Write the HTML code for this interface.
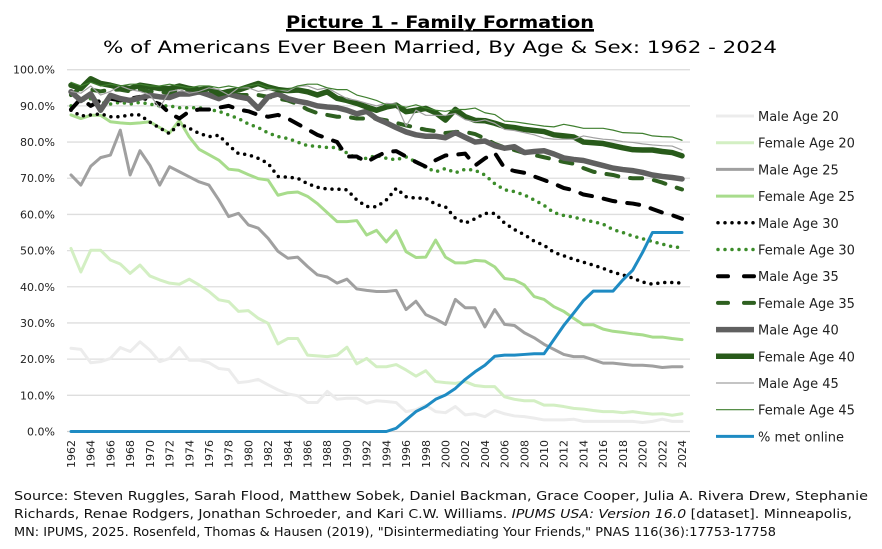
<!DOCTYPE html>
<html><head><meta charset="utf-8"><style>
html,body{margin:0;padding:0;background:#fff;}
svg{display:block;font-family:"DejaVu Sans","Liberation Sans",sans-serif;}
</style></head><body>
<svg id="chart" width="882" height="549" viewBox="0 0 882 549" xmlns="http://www.w3.org/2000/svg">
<rect width="882" height="549" fill="#fff"/>
<text x="440" y="28" text-anchor="middle" font-size="17" font-weight="bold" textLength="308" lengthAdjust="spacingAndGlyphs" text-decoration="underline">Picture 1 - Family Formation</text>
<line x1="286" y1="31" x2="594" y2="31" stroke="#000" stroke-width="1.3"/>
<text x="440" y="53" text-anchor="middle" font-size="17" textLength="674" lengthAdjust="spacingAndGlyphs">% of Americans Ever Been Married, By Age &amp; Sex: 1962 - 2024</text>
<g id="grid"></g>
<g id="yticks" font-size="11" fill="#222"></g>
<g id="xticks" font-size="11" fill="#222"></g>
<g id="series"></g>
<g font-size="13" fill="#222">
 <g><line x1="716" y1="116" x2="754" y2="116" stroke="#ececec" stroke-width="3"/><text x="758" y="121">Male Age 20</text></g>
 <g><line x1="716" y1="142.7" x2="754" y2="142.7" stroke="#d3efc3" stroke-width="3"/><text x="758" y="147.7">Female Age 20</text></g>
 <g><line x1="716" y1="169.4" x2="754" y2="169.4" stroke="#a0a0a0" stroke-width="3"/><text x="758" y="174.4">Male Age 25</text></g>
 <g><line x1="716" y1="196.1" x2="754" y2="196.1" stroke="#a8dc8c" stroke-width="3"/><text x="758" y="201.1">Female Age 25</text></g>
 <g><line x1="718" y1="222.8" x2="754" y2="222.8" stroke="#000" stroke-width="3.5" stroke-linecap="round" stroke-dasharray="0 7"/><text x="758" y="227.8">Male Age 30</text></g>
 <g><line x1="718" y1="249.5" x2="754" y2="249.5" stroke="#3c8c2a" stroke-width="3.5" stroke-linecap="round" stroke-dasharray="0 7"/><text x="758" y="254.5">Female Age 30</text></g>
 <g><line x1="718" y1="276.2" x2="754" y2="276.2" stroke="#000" stroke-width="4" stroke-linecap="round" stroke-dasharray="10 16"/><text x="758" y="281.2">Male Age 35</text></g>
 <g><line x1="718" y1="302.9" x2="754" y2="302.9" stroke="#2e6020" stroke-width="4" stroke-linecap="round" stroke-dasharray="10 16"/><text x="758" y="307.9">Female Age 35</text></g>
 <g><line x1="716" y1="329.6" x2="754" y2="329.6" stroke="#606060" stroke-width="5.5"/><text x="758" y="334.6">Male Age 40</text></g>
 <g><line x1="716" y1="356.3" x2="754" y2="356.3" stroke="#285a1a" stroke-width="5.5"/><text x="758" y="361.3">Female Age 40</text></g>
 <g><line x1="716" y1="383" x2="754" y2="383" stroke="#a0a0a0" stroke-width="1.2"/><text x="758" y="388">Male Age 45</text></g>
 <g><line x1="716" y1="409.7" x2="754" y2="409.7" stroke="#3f7f2f" stroke-width="1.2"/><text x="758" y="414.7">Female Age 45</text></g>
 <g><line x1="716" y1="436.4" x2="754" y2="436.4" stroke="#1e8bc3" stroke-width="3"/><text x="758" y="441.4">% met online</text></g>
</g>
<g font-size="12" fill="#111">
 <text x="14" y="500" textLength="854" lengthAdjust="spacingAndGlyphs">Source: Steven Ruggles, Sarah Flood, Matthew Sobek, Daniel Backman, Grace Cooper, Julia A. Rivera Drew, Stephanie</text>
 <text x="14" y="518" textLength="838" lengthAdjust="spacingAndGlyphs">Richards, Renae Rodgers, Jonathan Schroeder, and Kari C.W. Williams. <tspan font-style="italic">IPUMS USA: Version 16.0</tspan> [dataset]. Minneapolis,</text>
 <text x="14" y="536" textLength="762" lengthAdjust="spacingAndGlyphs">MN: IPUMS, 2025.  Rosenfeld, Thomas &amp; Hausen (2019), "Disintermediating Your Friends," PNAS 116(36):17753-17758</text>
</g>
</svg>
<script>
const years = [];
for (let y = 1962; y <= 2024; y++) years.push(y);
const yTicks = [0,10,20,30,40,50,60,70,80,90,100];
const male20 = [23,22.7,19,19.3,20.2,23.2,22.1,24.8,22.5,19.3,20.2,23.2,19.7,19.7,19,17.4,17.1,13.5,13.8,14.4,12.9,11.5,10.4,9.9,8,8,11.1,8.9,9.2,9.2,7.8,8.5,8.3,8,5.5,6,7.3,5.5,5.2,6.9,4.6,4.9,4.1,5.8,4.9,4.3,4.1,3.7,3.2,3.2,3.2,3.4,2.8,2.8,2.8,2.8,2.8,2.8,2.5,2.8,3.4,2.8,2.8];
const female20 = [50.6,44.1,50.1,50.1,47.4,46.3,43.7,46,43,41.9,41,40.7,42.1,40.5,38.7,36.4,35.9,33.2,33.4,31.3,29.9,24.2,25.7,25.7,21.1,20.9,20.7,21.1,23.3,18.7,20.2,17.9,17.9,18.5,17,15.3,16.8,13.8,13.5,13.3,13.8,12.7,12.4,12.4,9.6,8.9,8.5,8.5,7.3,7.3,6.9,6.4,6.2,5.8,5.5,5.5,5.2,5.5,5.1,4.8,4.9,4.5,4.9];
const male25 = [70.9,68.1,73.3,75.7,76.4,83.3,70.9,77.6,73.6,68.1,73.2,71.8,70.4,69,68.1,64,59.4,60.3,57.1,56.2,53.4,49.8,47.9,48.2,45.6,43.3,42.7,41,42.1,39.4,39,38.7,38.7,39,33.7,36,32.3,31.1,29.6,36.5,34.2,34.2,28.9,33.7,29.6,29.3,27.3,25.9,24.1,22.7,21.3,20.7,20.7,19.8,18.9,18.9,18.6,18.3,18.3,18.1,17.7,17.9,17.9];
const female25 = [87.5,86.5,87.4,87.4,85.6,85.3,85.1,85.3,85.6,84,82.5,86,81.4,78,76.5,75,72.5,72.2,71,69.9,69.5,65.3,66,66.2,65,63,60.5,58,58,58.3,54.3,55.6,52.4,55.5,49.7,48.1,48.2,52.9,48.2,46.6,46.6,47.3,47.1,45.5,42.3,41.9,40.5,37.3,36.5,34.5,33.2,31.3,29.5,29.5,28.3,27.7,27.4,27,26.7,26.1,26.1,25.7,25.4];
const male30 = [88.8,87.2,87.5,87.8,87,87,87.5,87.5,85.5,83.9,82.3,85.1,83.8,82.4,81.5,81.9,79.1,76.8,76.5,75.5,74.1,70.5,70.3,70,68.5,67.5,67,67,66.8,64,62.2,62.1,64,67.2,64.9,64.5,64.5,62.8,62.1,59,57.6,58.8,60.3,60.3,57.6,55.8,54.4,52.6,51.5,49.5,48.6,47.6,46.8,46,45.1,44,43.3,42.4,41.3,40.7,41.2,41.2,41];
const female30 = [90,91.5,92,91,90.5,91,90.5,91,90.5,90,90,89.5,89.5,89.5,89,88.5,87.5,86.5,85,84,82.5,81.5,81,80,79,78.8,78.5,78.5,77,75.5,75.5,76.3,75.5,75.1,75.9,74.5,73,71.8,72.7,71.5,72.5,72.2,70.9,68.5,66.8,66.3,65.4,64,62.5,60.5,59.7,59.3,58.5,58,57.3,55.8,55,54,53.3,52.5,51.8,51.1,50.8];
const male35 = [89,92,90,91.5,92,91.5,92,92.5,91.5,90.5,88,86.5,88.5,89,89,89.5,90,89,88.5,87.5,87,87.5,86.5,85,83.5,82,81,80,76,76,74.5,76,77.3,77.5,76,74.5,73.2,75,76.3,76.5,76.8,73.5,75.5,77,72.8,72,71.5,70.5,69.5,68.5,67.3,66.7,65.5,65,64.4,63.7,63.3,63,62.5,61.5,60.5,59.8,58.8];
const female35 = [93,95,94.5,94,94.5,94.5,94,94.5,94,94,93.5,94,94.5,94,94,94,93.5,93,93,93,92.5,92,91.5,90.5,89,88,87.5,87,87,86.5,86.5,86.5,86,85.3,84.6,84,83.4,83,82.5,82.8,82.8,82.2,81,79.5,78.5,77.8,77,76.4,75.8,75.2,74.5,74,72.8,71.8,71.3,70.9,70.2,70,70,69.6,68.8,67.8,66.9];
const male40 = [93.9,91.5,93.3,88.8,92.9,92,91.5,92.2,92.9,92.5,92.3,93.3,93.3,93.9,93,92,93.3,92.5,92,89.3,92.5,93.3,92,91.3,90.8,90,89.7,89.5,88.8,87.8,88.5,86.5,85.3,84,82.8,82,81.6,81.6,81.2,82.6,81.3,80,80.3,79,78.3,78.7,77.1,77.4,77.6,76.7,75.6,75.2,74.9,74.2,73.5,72.8,72.4,72.1,71.6,70.9,70.5,70.2,69.8];
const female40 = [95.7,94.8,97.5,96.2,95.7,95,94.8,95.7,95.3,94.8,94.8,95.5,94.8,94.4,94.8,93.3,94,94.4,95.3,96.2,95.2,94.5,94.2,94.4,93.9,93,93.9,92.1,91.5,90.7,89.7,88.8,89.7,90.2,88.4,88.8,89.3,88.1,86.1,89,87,86,85.9,85.2,84.3,84,83.5,83.2,82.9,82,81.7,81.4,80,79.8,79.6,79,78.4,77.9,77.8,77.8,77.4,77.1,76.2];
const male45 = [94,93.5,95.5,93,94,95.5,94.5,94,93,89.5,94,94.5,93.5,94,95,94.5,93,95,95,94,94.5,94.5,94,95.5,95.5,94.5,95,93.5,92,91.5,90.7,90,90.7,90.5,84.4,88.8,87.4,87.4,87.4,87.9,86.2,85.6,86.1,85.2,83.5,83.2,82.6,82,81.1,80.8,80.8,80.8,81.7,81.2,80.8,80.6,80.1,79.9,79.5,79.2,79,78.9,77.8];
const female45 = [96.5,95.5,96.5,95.5,96,95.5,96,96,95.5,95.5,96,95.5,95,95.5,95.5,95,95.5,95,95.5,96,95,94.5,94.5,95.5,96,96,95,94.5,94.5,93,92.3,91.5,90.3,90.3,89.6,90.3,89.4,88.8,88.5,89,89,89.4,88.1,87.6,85.8,85.6,85.2,84.8,84.4,84.2,84.9,84.4,83.8,83.8,83.8,83.3,82.6,82.5,82.4,81.7,81.5,81.4,80.5];
const metOnline = [0,0,0,0,0,0,0,0,0,0,0,0,0,0,0,0,0,0,0,0,0,0,0,0,0,0,0,0,0,0,0,0,0,0.9,3.2,5.5,6.9,8.9,10.1,11.9,14.4,16.5,18.3,20.8,21.1,21.1,21.3,21.5,21.5,25.4,29.3,32.7,36.2,38.8,38.8,38.8,41.9,44.6,49.5,55,55,55,55];

const NS = "http://www.w3.org/2000/svg";
const X0 = 71, X1 = 682, Y0 = 431.5, Y100 = 69.7;
function xScale(year){ return X0 + (year - years[0]) * (X1 - X0) / (years[years.length-1] - years[0]); }
function yScale(v){ return Y0 - v * (Y0 - Y100) / 100; }

const grid = document.getElementById('grid');
const yt = document.getElementById('yticks');
yTicks.forEach(function(t){
  const l = document.createElementNS(NS,'line');
  l.setAttribute('x1',67); l.setAttribute('x2',690);
  l.setAttribute('y1',yScale(t)); l.setAttribute('y2',yScale(t));
  l.setAttribute('stroke', t===0 ? '#d0d0d0' : '#dedede'); l.setAttribute('stroke-width',1.3);
  
  
  grid.appendChild(l);
  const tx = document.createElementNS(NS,'text');
  tx.setAttribute('x',55); tx.setAttribute('y',yScale(t)+4);
  tx.setAttribute('text-anchor','end');
  tx.textContent = t.toFixed(1) + '%';
  
  
  yt.appendChild(tx);
});
const xt = document.getElementById('xticks');
years.forEach(function(yr){
  if ((yr - 1962) % 2 !== 0) return;
  const tx = document.createElementNS(NS,'text');
  const x = xScale(yr) + 4;
  tx.setAttribute('x',x); tx.setAttribute('y',440);
  tx.setAttribute('text-anchor','end');
  tx.setAttribute('transform','rotate(-90 '+x+' 440)');
  tx.textContent = String(yr);
  
  
  xt.appendChild(tx);
});

const seriesList = [
  {name:'line-male-20', vals:male20, c:'#ececec', w:3},
  {name:'line-female-20', vals:female20, c:'#d3efc3', w:3},
  {name:'line-male-25', vals:male25, c:'#a0a0a0', w:3},
  {name:'line-female-25', vals:female25, c:'#a8dc8c', w:3},
  {name:'line-male-30', vals:male30, c:'#000', w:3.5, dash:'0 7'},
  {name:'line-female-30', vals:female30, c:'#3c8c2a', w:3.5, dash:'0 7'},
  {name:'line-male-35', vals:male35, c:'#000', w:4, dash:'12 12'},
  {name:'line-female-35', vals:female35, c:'#2e6020', w:4, dash:'12 12'},
  {name:'line-male-40', vals:male40, c:'#606060', w:5.5},
  {name:'line-female-40', vals:female40, c:'#285a1a', w:5.5},
  {name:'line-male-45', vals:male45, c:'#a0a0a0', w:1.2},
  {name:'line-female-45', vals:female45, c:'#3f7f2f', w:1.2},
  {name:'line-met-online', vals:metOnline, c:'#1e8bc3', w:3}
];
const sg = document.getElementById('series');
seriesList.forEach(function(s){
  let d = '';
  s.vals.forEach(function(v,i){ d += (i ? 'L' : 'M') + xScale(years[i]).toFixed(2) + ',' + yScale(v).toFixed(2); });
  const p = document.createElementNS(NS,'path');
  p.setAttribute('d', d);
  p.setAttribute('fill','none');
  p.setAttribute('stroke', s.c);
  p.setAttribute('stroke-width', s.w);
  p.setAttribute('stroke-linejoin','round');
  p.setAttribute('stroke-linecap','round');
  if (s.dash) p.setAttribute('stroke-dasharray', s.dash);
  
  
  sg.appendChild(p);
});
</script>
</body></html>
